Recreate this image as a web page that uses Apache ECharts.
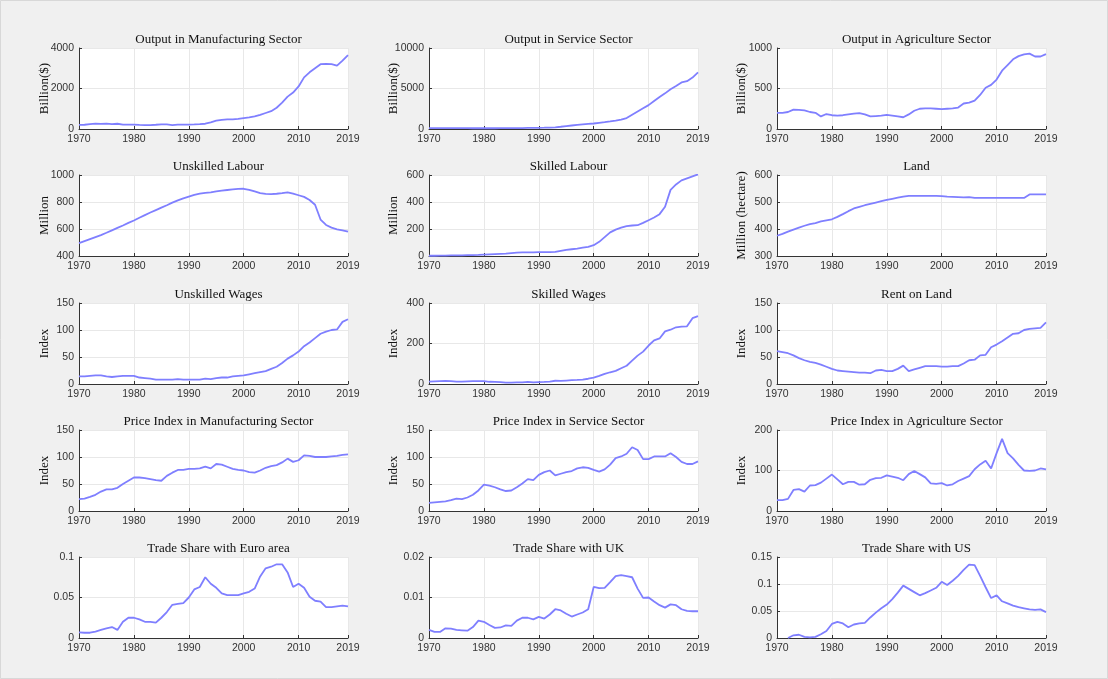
<!DOCTYPE html>
<html><head><meta charset="utf-8">
<script src="https://cdn.jsdelivr.net/npm/echarts@6/dist/echarts.min.js"></script>
<style>html,body{margin:0;padding:0;background:#f0f0f0}#c{width:1108px;height:679px}</style>
</head><body><div id="c"></div>
<script>
const years = [1970,1971,1972,1973,1974,1975,1976,1977,1978,1979,1980,1981,1982,1983,1984,1985,1986,1987,1988,1989,1990,1991,1992,1993,1994,1995,1996,1997,1998,1999,2000,2001,2002,2003,2004,2005,2006,2007,2008,2009,2010,2011,2012,2013,2014,2015,2016,2017,2018,2019];

const outputManufacturing = [200,210,240,270,250,270,240,260,220,220,220,200,190,195,210,230,225,195,215,220,220,225,240,260,330,410,450,480,480,500,540,570,620,700,790,880,1050,1300,1600,1800,2100,2550,2800,3000,3200,3220,3200,3130,3380,3650];
const outputService = [120,120,120,120,110,110,100,100,90,90,90,90,90,100,110,120,120,120,130,140,150,160,180,210,280,360,430,500,560,620,680,760,840,930,1030,1150,1350,1750,2150,2550,2950,3450,3950,4400,4900,5300,5750,5900,6350,7000];
const outputAgriculture = [200,200,210,240,235,230,210,200,155,185,170,165,170,180,190,195,180,155,160,165,175,165,155,145,180,225,250,255,255,250,245,250,255,265,315,325,350,420,510,545,610,720,790,860,900,920,930,895,895,925];
const unskilledLabour = [495,510,525,540,555,572,590,608,626,645,663,683,703,722,740,758,776,795,812,827,840,852,862,868,872,878,884,889,893,897,898,890,878,866,860,859,861,866,872,862,850,838,815,780,670,630,610,598,590,580];
const skilledLabour = [2,2,3,3,4,4,5,6,7,8,10,12,14,16,18,22,25,27,27,27,28,28,28,30,38,45,50,55,62,68,80,105,140,175,195,210,222,226,228,245,265,285,310,365,490,530,560,575,590,605];
const land = [375,382,390,398,405,412,418,422,428,432,436,445,455,466,476,482,488,493,498,503,508,512,516,520,523,523,523,523,523,523,522,520,519,518,517,518,515,515,515,515,515,515,515,515,515,515,528,528,528,528];
const unskilledWages = [14,14,15,16,16,14,13,14,15,15,15,12,11,10,8,8,8,8,9,8,8,8,8,10,9,11,12,12,14,15,16,18,20,22,24,28,32,39,47,53,60,70,77,85,93,97,100,101,115,120];
const skilledWages = [12,13,14,15,14,12,12,13,14,14,14,11,10,9,7,7,8,8,10,8,9,10,12,16,15,17,19,20,22,26,32,40,50,58,65,78,90,115,140,160,190,215,225,260,268,280,283,285,325,335];
const rentOnLand = [61,59,57,53,48,44,41,39,36,32,28,25,24,23,22,21,21,20,25,26,24,24,28,34,24,27,30,33,33,33,32,32,33,33,38,44,45,53,54,68,73,79,86,93,94,100,102,103,104,114];
const priceManufacturing = [22,23,26,30,36,40,40,43,50,56,62,62,61,59,57,56,65,71,76,76,78,78,79,82,79,87,86,82,78,76,75,72,71,75,80,83,85,90,97,91,94,103,102,100,100,100,101,102,104,105];
const priceService = [15,16,17,18,20,23,22,25,30,38,49,47,44,40,37,38,44,51,59,57,67,72,75,66,69,72,74,79,81,80,76,73,77,86,98,101,106,118,113,96,96,101,101,101,107,100,91,87,87,92];
const priceAgriculture = [27,27,30,52,54,48,63,64,70,80,90,78,66,72,72,65,66,77,81,82,88,85,82,76,91,99,91,83,68,67,69,63,66,74,80,86,103,115,124,105,143,178,143,130,114,100,99,100,105,103];
const tradeEuro = [0.007,0.0065,0.0065,0.008,0.010,0.012,0.0135,0.010,0.020,0.025,0.025,0.023,0.020,0.020,0.019,0.025,0.032,0.041,0.042,0.043,0.050,0.060,0.063,0.075,0.067,0.062,0.055,0.053,0.053,0.053,0.055,0.057,0.061,0.076,0.086,0.088,0.091,0.091,0.081,0.063,0.067,0.062,0.051,0.046,0.045,0.038,0.038,0.039,0.040,0.039];
const tradeUK = [0.0020,0.0015,0.0015,0.0024,0.0023,0.0020,0.0019,0.0018,0.0027,0.0043,0.0040,0.0032,0.0025,0.0026,0.0031,0.0030,0.0043,0.0050,0.0050,0.0046,0.0052,0.0048,0.0058,0.0071,0.0068,0.0060,0.0053,0.0058,0.0063,0.0071,0.0126,0.0123,0.0124,0.0138,0.0153,0.0155,0.0153,0.0150,0.0122,0.0099,0.0100,0.0090,0.0081,0.0075,0.0083,0.0081,0.0071,0.0067,0.0066,0.0066];
const tradeUS = [null,null,0.000,0.005,0.006,0.002,0.001,0.002,0.007,0.013,0.026,0.030,0.027,0.020,0.025,0.027,0.028,0.038,0.047,0.055,0.062,0.072,0.084,0.097,0.091,0.085,0.079,0.083,0.088,0.093,0.104,0.098,0.106,0.115,0.126,0.136,0.135,0.115,0.094,0.074,0.079,0.068,0.064,0.060,0.057,0.055,0.053,0.052,0.053,0.048];

const titles = ['Output in Manufacturing Sector','Output in Service Sector','Output in Agriculture Sector',
  'Unskilled Labour','Skilled Labour','Land',
  'Unskilled Wages','Skilled Wages','Rent on Land',
  'Price Index in Manufacturing Sector','Price Index in Service Sector','Price Index in Agriculture Sector',
  'Trade Share with Euro area','Trade Share with UK','Trade Share with US'];
const yNames = ['Billion($)','Billion($)','Billion($)','Million','Million','Million (hectare)','Index','Index','Index','Index','Index','Index','','',''];
const yMin = [0,0,0,400,0,300,0,0,0,0,0,0,0,0,0];
const yMax = [4000,10000,1000,1000,600,600,150,400,150,150,150,200,0.1,0.02,0.15];
const yInterval = [2000,5000,500,200,200,100,50,200,50,50,50,100,0.05,0.01,0.05];
const seriesData = [outputManufacturing,outputService,outputAgriculture,unskilledLabour,skilledLabour,land,unskilledWages,skilledWages,rentOnLand,priceManufacturing,priceService,priceAgriculture,tradeEuro,tradeUK,tradeUS];

const colLeft = [79,429,777];
const rowTop = [48,175,303,430,557];
const W = 269, H = 81;
const lineColor = '#7f7fff';
const serif = '"Liberation Serif","Times New Roman",serif';
const sans = '"Liberation Sans",Arial,sans-serif';
const fmt = v => String(+v.toPrecision(6));

const option = {backgroundColor:'#f0f0f0', animation:false, title:[], grid:[], xAxis:[], yAxis:[], series:[]};
for (let i=0;i<15;i++){
  const r = Math.floor(i/3), c = i%3;
  option.title.push({text:titles[i], left:colLeft[c]+W/2, top:rowTop[r]-20, textAlign:'center',
    textStyle:{fontFamily:serif,fontSize:13,fontWeight:'normal',color:'#111'}});
  option.grid.push({left:colLeft[c], top:rowTop[r], width:W, height:H, show:true, backgroundColor:'#fff', borderWidth:0});
  option.xAxis.push({type:'value', gridIndex:i, min:1970, max:2019, interval:10,
    axisLine:{show:true,onZero:false,lineStyle:{color:'#333',width:1}},
    axisTick:{show:true,inside:true,length:3,lineStyle:{color:'#333'}},
    axisLabel:{fontFamily:sans,fontSize:10.5,color:'#333',margin:5,showMaxLabel:true,formatter:fmt},
    splitLine:{show:true,lineStyle:{color:'#e8e8e8',width:1}}});
  option.yAxis.push({type:'value', gridIndex:i, min:yMin[i], max:yMax[i], interval:yInterval[i],
    name:yNames[i], nameLocation:'middle', nameGap:[28,29,29][c], nameMoveOverlap:false,
    nameTextStyle:{fontFamily:serif,fontSize:13,color:'#111'},
    axisLine:{show:true,onZero:false,lineStyle:{color:'#333',width:1}},
    axisTick:{show:true,inside:true,length:3,lineStyle:{color:'#333'}},
    axisLabel:{fontFamily:sans,fontSize:10.5,color:'#333',margin:5,formatter:fmt},
    splitLine:{show:true,lineStyle:{color:'#e8e8e8',width:1}}});
  option.series.push({type:'line', xAxisIndex:i, yAxisIndex:i, showSymbol:false, symbol:'none',
    lineStyle:{color:lineColor,width:1.8}, data: years.map((y,k)=>[y, seriesData[i][k]]), connectNulls:false});
}
option.graphic = [{type:'rect', shape:{x:0.5,y:0.5,width:1107,height:678}, style:{fill:null,stroke:'#d8d8d8',lineWidth:1}, silent:true}];
const chart = echarts.init(document.getElementById('c'));
chart.setOption(option);
</script></body></html>
